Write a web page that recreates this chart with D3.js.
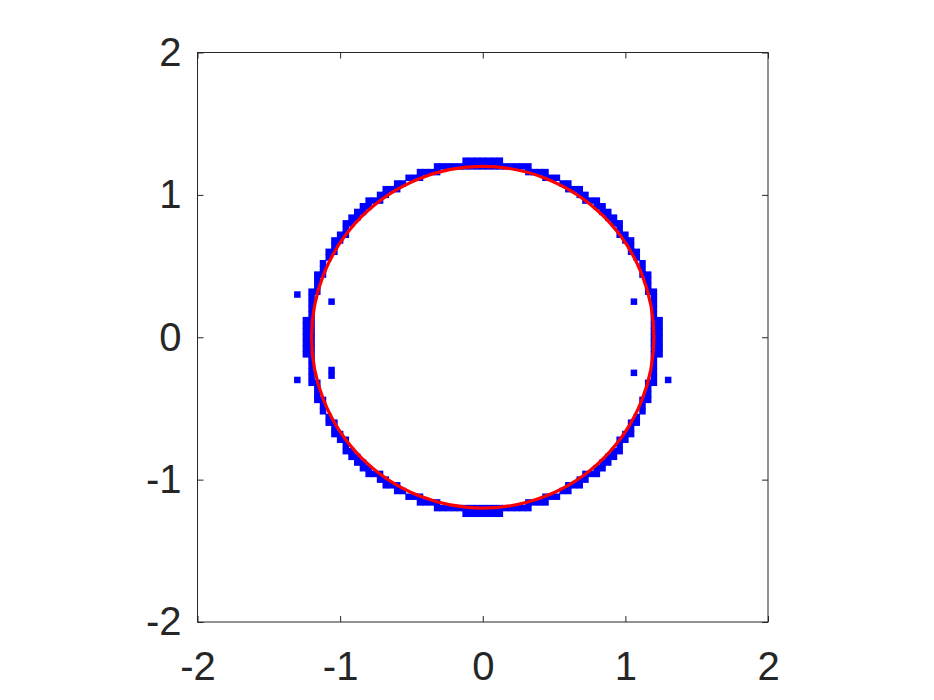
<!DOCTYPE html>
<html>
<head>
<meta charset="utf-8">
<script src="https://cdn.jsdelivr.net/npm/d3@7"></script>
<style>
  html, body { margin: 0; padding: 0; background: #ffffff; }
  svg { display: block; }
</style>
</head>
<body>
<svg id="chart" width="934" height="700"></svg>
<script>
// ---------------- data ----------------
const xTicks = [-2, -1, 0, 1, 2];
const yTicks = [-2, -1, 0, 1, 2];
const xDomain = [-2, 2];
const yDomain = [-2, 2];

// grid spacing of the blue boundary markers
const gridStep = 0.04;
// blue marker rows: [row index j, first column index, last column index]  (x = i*gridStep, y = j*gridStep)
const blueRows = [
  [31, -3, 3],
  [30, -8, 8],
  [29, -11, -8], [29, 8, 11],
  [28, -13, -11], [28, 11, 13],
  [27, -15, -14], [27, 14, 15],
  [26, -17, -15], [26, 15, 17],
  [25, -18, -17], [25, 17, 18],
  [24, -20, -18], [24, 18, 20],
  [23, -21, -20], [23, 20, 21],
  [22, -22, -21], [22, 21, 22],
  [21, -23, -22], [21, 22, 23],
  [20, -24, -23], [20, 23, 24],
  [19, -24, -24], [19, 24, 24],
  [18, -25, -24], [18, 24, 25],
  [17, -26, -25], [17, 25, 26],
  [16, -26, -26], [16, 26, 26],
  [15, -27, -26], [15, 26, 27],
  [14, -27, -27], [14, 27, 27],
  [13, -28, -28], [13, 28, 28],
  [12, -28, -28], [12, 28, 28],
  [11, -29, -28], [11, 28, 29],
  [10, -29, -29], [10, 29, 29],
  [9, -29, -29], [9, 29, 29],
  [8, -30, -29], [8, 29, 30],
  [7, -30, -30], [7, 30, 30],
  [6, -30, -30], [6, 30, 30],
  [5, -30, -30], [5, 30, 30],
  [4, -30, -30], [4, 30, 30],
  [3, -31, -30], [3, 30, 31],
  [2, -31, -30], [2, 30, 31],
  [1, -31, -30], [1, 30, 31],
  [0, -31, -30], [0, 30, 31],
  [-1, -31, -30], [-1, 30, 31],
  [-2, -31, -30], [-2, 30, 31],
  [-3, -31, -30], [-3, 30, 31],
  [-4, -30, -30], [-4, 30, 30],
  [-5, -30, -30], [-5, 30, 30],
  [-6, -30, -30], [-6, 30, 30],
  [-7, -30, -30], [-7, 30, 30],
  [-8, -30, -29], [-8, 29, 30],
  [-9, -29, -29], [-9, 29, 29],
  [-10, -29, -29], [-10, 29, 29],
  [-11, -29, -28], [-11, 28, 29],
  [-12, -28, -28], [-12, 28, 28],
  [-13, -28, -28], [-13, 28, 28],
  [-14, -27, -27], [-14, 27, 27],
  [-15, -27, -26], [-15, 26, 27],
  [-16, -26, -26], [-16, 26, 26],
  [-17, -26, -25], [-17, 25, 26],
  [-18, -25, -24], [-18, 24, 25],
  [-19, -24, -24], [-19, 24, 24],
  [-20, -24, -23], [-20, 23, 24],
  [-21, -23, -22], [-21, 22, 23],
  [-22, -22, -21], [-22, 21, 22],
  [-23, -21, -20], [-23, 20, 21],
  [-24, -20, -18], [-24, 18, 20],
  [-25, -18, -17], [-25, 17, 18],
  [-26, -17, -15], [-26, 15, 17],
  [-27, -15, -14], [-27, 14, 15],
  [-28, -13, -11], [-28, 11, 13],
  [-29, -11, -8], [-29, 8, 11],
  [-30, -8, 8],
  [-31, -3, 3]
];
// isolated blue markers
const strayX = [-1.30, -1.06, -1.30, -1.06, -1.06, 1.06, 1.06, 1.30];
const strayY = [0.30, 0.25, -0.30, -0.23, -0.27, 0.25, -0.25, -0.30];

// red reference circle
const circleCenterX = 0;
const circleCenterY = 0;
const circleRadius = 1.2;

// ---------------- layout ----------------
const plotLeft = 197.5, plotRight = 768, plotTop = 52.5, plotBottom = 622;
const textColor = "#262626";
const fontFamily = "'Liberation Sans', Arial, Helvetica, sans-serif";

const svg = d3.select("#chart");
const x = d3.scaleLinear().domain(xDomain).range([plotLeft, plotRight]);
const y = d3.scaleLinear().domain(yDomain).range([plotBottom, plotTop]);

// expand rows into points
const bluePoints = [];
blueRows.forEach(([j, i0, i1]) => {
  for (let i = i0; i <= i1; i++) bluePoints.push({ x: i * gridStep, y: j * gridStep });
});
strayX.forEach((sx, k) => bluePoints.push({ x: sx, y: strayY[k] }));

const markerW = x(gridStep) - x(0) + 0.8;
const markerH = y(0) - y(gridStep) + 0.8;

const plot = svg.append("g");
plot.selectAll("rect.pt")
  .data(bluePoints)
  .enter().append("rect")
  .attr("class", "pt")
  .attr("x", d => x(d.x) - markerW / 2)
  .attr("y", d => y(d.y) - markerH / 2)
  .attr("width", markerW)
  .attr("height", markerH)
  .attr("fill", "#0000ff");

plot.append("ellipse")
  .attr("cx", x(circleCenterX))
  .attr("cy", y(circleCenterY))
  .attr("rx", x(circleRadius) - x(0))
  .attr("ry", y(0) - y(circleRadius))
  .attr("fill", "none")
  .attr("stroke", "#ff0000")
  .attr("stroke-width", 3.2);

// ---------------- axes ----------------
const fmt = d => String(d).replace("\u2212", "-");
const tickLen = 6;

const gBottom = svg.append("g").attr("transform", `translate(0,${plotBottom})`)
  .call(d3.axisBottom(x).tickValues(xTicks).tickFormat(fmt).tickSizeInner(-tickLen).tickSizeOuter(0).tickPadding(30));
const gTop = svg.append("g").attr("transform", `translate(0,${plotTop})`)
  .call(d3.axisTop(x).tickValues(xTicks).tickFormat("").tickSizeInner(-tickLen).tickSizeOuter(0));
const gLeft = svg.append("g").attr("transform", `translate(${plotLeft},0)`)
  .call(d3.axisLeft(y).tickValues(yTicks).tickFormat(fmt).tickSizeInner(-tickLen).tickSizeOuter(0).tickPadding(16));
const gRight = svg.append("g").attr("transform", `translate(${plotRight},0)`)
  .call(d3.axisRight(y).tickValues(yTicks).tickFormat("").tickSizeInner(-tickLen).tickSizeOuter(0));

[gBottom, gTop, gLeft, gRight].forEach(g => {
  g.select(".domain").remove();
  g.selectAll(".tick line").attr("stroke", textColor).attr("stroke-width", 1);
  g.selectAll(".tick text")
    .attr("fill", textColor)
    .style("font-family", fontFamily)
    .style("font-size", "40px");
});

svg.append("rect")
  .attr("x", plotLeft)
  .attr("y", plotTop)
  .attr("width", plotRight - plotLeft)
  .attr("height", plotBottom - plotTop)
  .attr("fill", "none")
  .attr("stroke", textColor)
  .attr("stroke-width", 1);
</script>
</body>
</html>
